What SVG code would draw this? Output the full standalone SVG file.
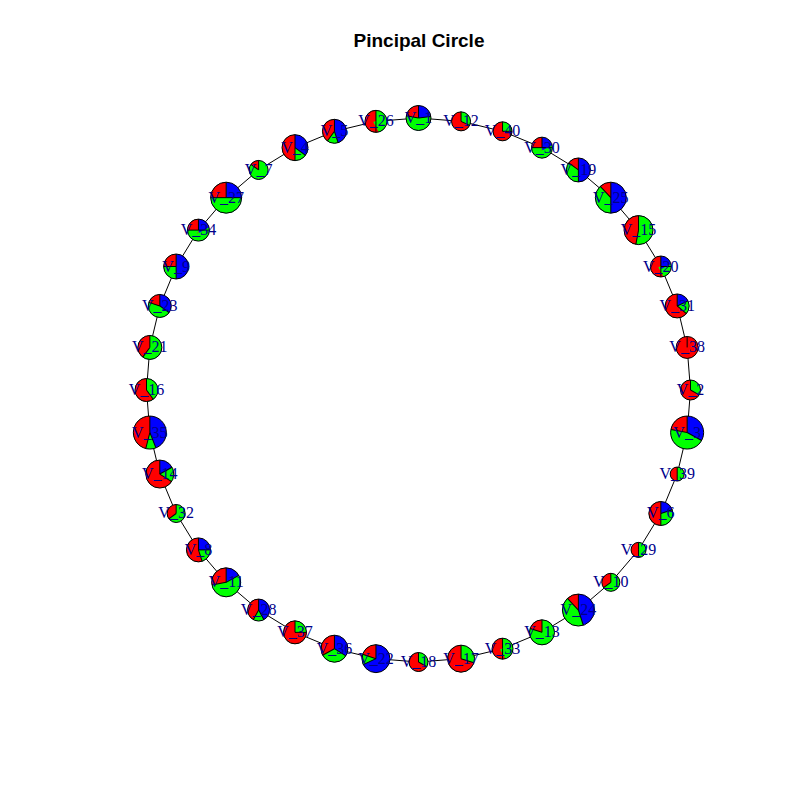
<svg xmlns="http://www.w3.org/2000/svg" width="800" height="800" viewBox="0 0 800 800">
<style>
.b{fill:#0000FF}
.gr{fill:none;stroke:#00FF00}
.rd{fill:none;stroke:#FF0000}
.o{fill:none;stroke:#000;stroke-width:1}
.k{fill:none;stroke:#000;stroke-width:1}
.l{font-family:"Liberation Serif",serif;font-size:16px;fill:#00008B;text-anchor:middle}
.e line{stroke:#000;stroke-width:1}
.t{font-family:"Liberation Sans",Arial,sans-serif;font-size:19px;font-weight:bold;text-anchor:middle;fill:#000}
</style>
<rect width="800" height="800" fill="#fff"/>
<text class="t" x="419" y="47">Pincipal Circle</text>
<g class="e" id="edges">
<line x1="418.5" y1="118" x2="461.05" y2="121.35"/>
<line x1="461.05" y1="121.35" x2="502.55" y2="131.31"/>
<line x1="502.55" y1="131.31" x2="541.99" y2="147.65"/>
<line x1="541.99" y1="147.65" x2="578.38" y2="169.95"/>
<line x1="578.38" y1="169.95" x2="610.83" y2="197.67"/>
<line x1="610.83" y1="197.67" x2="638.55" y2="230.12"/>
<line x1="638.55" y1="230.12" x2="660.85" y2="266.51"/>
<line x1="660.85" y1="266.51" x2="677.19" y2="305.95"/>
<line x1="677.19" y1="305.95" x2="687.15" y2="347.45"/>
<line x1="687.15" y1="347.45" x2="690.5" y2="390"/>
<line x1="690.5" y1="390" x2="687.15" y2="432.55"/>
<line x1="687.15" y1="432.55" x2="677.19" y2="474.05"/>
<line x1="677.19" y1="474.05" x2="660.85" y2="513.49"/>
<line x1="660.85" y1="513.49" x2="638.55" y2="549.88"/>
<line x1="638.55" y1="549.88" x2="610.83" y2="582.33"/>
<line x1="610.83" y1="582.33" x2="578.38" y2="610.05"/>
<line x1="578.38" y1="610.05" x2="541.99" y2="632.35"/>
<line x1="541.99" y1="632.35" x2="502.55" y2="648.69"/>
<line x1="502.55" y1="648.69" x2="461.05" y2="658.65"/>
<line x1="461.05" y1="658.65" x2="418.5" y2="662"/>
<line x1="418.5" y1="662" x2="375.95" y2="658.65"/>
<line x1="375.95" y1="658.65" x2="334.45" y2="648.69"/>
<line x1="334.45" y1="648.69" x2="295.01" y2="632.35"/>
<line x1="295.01" y1="632.35" x2="258.62" y2="610.05"/>
<line x1="258.62" y1="610.05" x2="226.17" y2="582.33"/>
<line x1="226.17" y1="582.33" x2="198.45" y2="549.88"/>
<line x1="198.45" y1="549.88" x2="176.15" y2="513.49"/>
<line x1="176.15" y1="513.49" x2="159.81" y2="474.05"/>
<line x1="159.81" y1="474.05" x2="149.85" y2="432.55"/>
<line x1="149.85" y1="432.55" x2="146.5" y2="390"/>
<line x1="146.5" y1="390" x2="149.85" y2="347.45"/>
<line x1="149.85" y1="347.45" x2="159.81" y2="305.95"/>
<line x1="159.81" y1="305.95" x2="176.15" y2="266.51"/>
<line x1="176.15" y1="266.51" x2="198.45" y2="230.12"/>
<line x1="198.45" y1="230.12" x2="226.17" y2="197.67"/>
<line x1="226.17" y1="197.67" x2="258.62" y2="169.95"/>
<line x1="258.62" y1="169.95" x2="295.01" y2="147.65"/>
<line x1="295.01" y1="147.65" x2="334.45" y2="131.31"/>
<line x1="334.45" y1="131.31" x2="375.95" y2="121.35"/>
<line x1="375.95" y1="121.35" x2="418.5" y2="118"/>
</g>

<g id="V_1" transform="translate(418.5,118)"><circle class="b" r="12.5"/><g transform="scale(-1,1) rotate(-90)"><circle class="gr" r="6.25" stroke-width="12.5" pathLength="100" stroke-dasharray="77 100"/><circle class="rd" r="6.25" stroke-width="12.5" pathLength="100" stroke-dasharray="22 100"/></g><circle class="o" r="12.5"/><path class="k" d="M0 0V-12.5"/><path class="k" d="M0 0V-12.5" transform="rotate(-79.2)"/><path class="k" d="M0 0V-12.5" transform="rotate(-277.2)"/><text class="l" y="5">V_1</text></g>

<g id="V_12" transform="translate(461.05,121.35)"><circle class="b" r="9.5"/><g transform="scale(-1,1) rotate(-90)"><circle class="gr" r="4.75" stroke-width="9.5" pathLength="100" stroke-dasharray="100 100"/><circle class="rd" r="4.75" stroke-width="9.5" pathLength="100" stroke-dasharray="68 100"/></g><circle class="o" r="9.5"/><path class="k" d="M0 0V-9.5"/><path class="k" d="M0 0V-9.5" transform="rotate(-244.8)"/><text class="l" y="5">V_12</text></g>

<g id="V_40" transform="translate(502.55,131.31)"><circle class="b" r="9.5"/><g transform="scale(-1,1) rotate(-90)"><circle class="gr" r="4.75" stroke-width="9.5" pathLength="100" stroke-dasharray="100 100"/><circle class="rd" r="4.75" stroke-width="9.5" pathLength="100" stroke-dasharray="75 100"/></g><circle class="o" r="9.5"/><path class="k" d="M0 0V-9.5"/><path class="k" d="M0 0V-9.5" transform="rotate(-270)"/><text class="l" y="5">V_40</text></g>

<g id="V_30" transform="translate(541.99,147.65)"><circle class="b" r="10.5"/><g transform="scale(-1,1) rotate(-90)"><circle class="gr" r="5.25" stroke-width="10.5" pathLength="100" stroke-dasharray="75 100"/><circle class="rd" r="5.25" stroke-width="10.5" pathLength="100" stroke-dasharray="25 100"/></g><circle class="o" r="10.5"/><path class="k" d="M0 0V-10.5"/><path class="k" d="M0 0V-10.5" transform="rotate(-90)"/><path class="k" d="M0 0V-10.5" transform="rotate(-270)"/><text class="l" y="5">V_30</text></g>

<g id="V_19" transform="translate(578.38,169.95)"><circle class="b" r="12"/><g transform="scale(-1,1) rotate(-90)"><circle class="gr" r="6" stroke-width="12" pathLength="100" stroke-dasharray="50 100"/><circle class="rd" r="6" stroke-width="12" pathLength="100" stroke-dasharray="15 100"/></g><circle class="o" r="12"/><path class="k" d="M0 0V-12"/><path class="k" d="M0 0V-12" transform="rotate(-54)"/><path class="k" d="M0 0V-12" transform="rotate(-180)"/><text class="l" y="5">V_19</text></g>

<g id="V_25" transform="translate(610.83,197.67)"><circle class="b" r="15.5"/><g transform="scale(-1,1) rotate(-90)"><circle class="gr" r="7.75" stroke-width="15.5" pathLength="100" stroke-dasharray="50 100"/><circle class="rd" r="7.75" stroke-width="15.5" pathLength="100" stroke-dasharray="12 100"/></g><circle class="o" r="15.5"/><path class="k" d="M0 0V-15.5"/><path class="k" d="M0 0V-15.5" transform="rotate(-43.2)"/><path class="k" d="M0 0V-15.5" transform="rotate(-180)"/><text class="l" y="5">V_25</text></g>

<g id="V_15" transform="translate(638.55,230.12)"><circle class="b" r="14.5"/><g transform="scale(-1,1) rotate(-90)"><circle class="gr" r="7.25" stroke-width="14.5" pathLength="100" stroke-dasharray="100 100"/><circle class="rd" r="7.25" stroke-width="14.5" pathLength="100" stroke-dasharray="47 100"/></g><circle class="o" r="14.5"/><path class="k" d="M0 0V-14.5"/><path class="k" d="M0 0V-14.5" transform="rotate(-169.2)"/><text class="l" y="5">V_15</text></g>

<g id="V_20" transform="translate(660.85,266.51)"><circle class="b" r="10.5"/><g transform="scale(-1,1) rotate(-90)"><circle class="gr" r="5.25" stroke-width="10.5" pathLength="100" stroke-dasharray="75 100"/><circle class="rd" r="5.25" stroke-width="10.5" pathLength="100" stroke-dasharray="50 100"/></g><circle class="o" r="10.5"/><path class="k" d="M0 0V-10.5"/><path class="k" d="M0 0V-10.5" transform="rotate(-180)"/><path class="k" d="M0 0V-10.5" transform="rotate(-270)"/><text class="l" y="5">V_20</text></g>

<g id="V_31" transform="translate(677.19,305.95)"><circle class="b" r="12"/><g transform="scale(-1,1) rotate(-90)"><circle class="gr" r="6" stroke-width="12" pathLength="100" stroke-dasharray="82 100"/><circle class="rd" r="6" stroke-width="12" pathLength="100" stroke-dasharray="64 100"/></g><circle class="o" r="12"/><path class="k" d="M0 0V-12"/><path class="k" d="M0 0V-12" transform="rotate(-230.4)"/><path class="k" d="M0 0V-12" transform="rotate(-295.2)"/><text class="l" y="5">V_31</text></g>

<g id="V_38" transform="translate(687.15,347.45)"><circle r="11" fill="#FF0000"/><circle class="o" r="11"/><path class="k" d="M0 0V-11"/><text class="l" y="5">V_38</text></g>

<g id="V_2" transform="translate(690.5,390)"><circle class="b" r="10"/><g transform="scale(-1,1) rotate(-90)"><circle class="gr" r="5" stroke-width="10" pathLength="100" stroke-dasharray="100 100"/><circle class="rd" r="5" stroke-width="10" pathLength="100" stroke-dasharray="67 100"/></g><circle class="o" r="10"/><path class="k" d="M0 0V-10"/><path class="k" d="M0 0V-10" transform="rotate(-241.2)"/><text class="l" y="5">V_2</text></g>

<g id="V_3" transform="translate(687.15,432.55)"><circle class="b" r="16.5"/><g transform="scale(-1,1) rotate(-90)"><circle class="gr" r="8.25" stroke-width="16.5" pathLength="100" stroke-dasharray="67 100"/><circle class="rd" r="8.25" stroke-width="16.5" pathLength="100" stroke-dasharray="22 100"/></g><circle class="o" r="16.5"/><path class="k" d="M0 0V-16.5"/><path class="k" d="M0 0V-16.5" transform="rotate(-79.2)"/><path class="k" d="M0 0V-16.5" transform="rotate(-241.2)"/><text class="l" y="5">V_3</text></g>

<g id="V_39" transform="translate(677.19,474.05)"><circle class="b" r="7"/><g transform="scale(-1,1) rotate(-90)"><circle class="gr" r="3.5" stroke-width="7" pathLength="100" stroke-dasharray="100 100"/><circle class="rd" r="3.5" stroke-width="7" pathLength="100" stroke-dasharray="50 100"/></g><circle class="o" r="7"/><path class="k" d="M0 0V-7"/><path class="k" d="M0 0V-7" transform="rotate(-180)"/><text class="l" y="5">V_39</text></g>

<g id="V_6" transform="translate(660.85,513.49)"><circle class="b" r="12"/><g transform="scale(-1,1) rotate(-90)"><circle class="gr" r="6" stroke-width="12" pathLength="100" stroke-dasharray="80 100"/><circle class="rd" r="6" stroke-width="12" pathLength="100" stroke-dasharray="50 100"/></g><circle class="o" r="12"/><path class="k" d="M0 0V-12"/><path class="k" d="M0 0V-12" transform="rotate(-180)"/><path class="k" d="M0 0V-12" transform="rotate(-288)"/><text class="l" y="5">V_6</text></g>

<g id="V_29" transform="translate(638.55,549.88)"><circle class="b" r="7.5"/><g transform="scale(-1,1) rotate(-90)"><circle class="gr" r="3.75" stroke-width="7.5" pathLength="100" stroke-dasharray="100 100"/><circle class="rd" r="3.75" stroke-width="7.5" pathLength="100" stroke-dasharray="50 100"/></g><circle class="o" r="7.5"/><path class="k" d="M0 0V-7.5"/><path class="k" d="M0 0V-7.5" transform="rotate(-180)"/><text class="l" y="5">V_29</text></g>

<g id="V_10" transform="translate(610.83,582.33)"><circle class="b" r="9"/><g transform="scale(-1,1) rotate(-90)"><circle class="gr" r="4.5" stroke-width="9" pathLength="100" stroke-dasharray="100 100"/><circle class="rd" r="4.5" stroke-width="9" pathLength="100" stroke-dasharray="35 100"/></g><circle class="o" r="9"/><path class="k" d="M0 0V-9"/><path class="k" d="M0 0V-9" transform="rotate(-126)"/><text class="l" y="5">V_10</text></g>

<g id="V_24" transform="translate(578.38,610.05)"><circle class="b" r="16"/><g transform="scale(-1,1) rotate(-90)"><circle class="gr" r="8" stroke-width="16" pathLength="100" stroke-dasharray="55 100"/><circle class="rd" r="8" stroke-width="16" pathLength="100" stroke-dasharray="12 100"/></g><circle class="o" r="16"/><path class="k" d="M0 0V-16"/><path class="k" d="M0 0V-16" transform="rotate(-43.2)"/><path class="k" d="M0 0V-16" transform="rotate(-198)"/><text class="l" y="5">V_24</text></g>

<g id="V_13" transform="translate(541.99,632.35)"><circle class="b" r="12.5"/><g transform="scale(-1,1) rotate(-90)"><circle class="gr" r="6.25" stroke-width="12.5" pathLength="100" stroke-dasharray="100 100"/><circle class="rd" r="6.25" stroke-width="12.5" pathLength="100" stroke-dasharray="20 100"/></g><circle class="o" r="12.5"/><path class="k" d="M0 0V-12.5"/><path class="k" d="M0 0V-12.5" transform="rotate(-72)"/><text class="l" y="5">V_13</text></g>

<g id="V_33" transform="translate(502.55,648.69)"><circle class="b" r="10.5"/><g transform="scale(-1,1) rotate(-90)"><circle class="gr" r="5.25" stroke-width="10.5" pathLength="100" stroke-dasharray="100 100"/><circle class="rd" r="5.25" stroke-width="10.5" pathLength="100" stroke-dasharray="50 100"/></g><circle class="o" r="10.5"/><path class="k" d="M0 0V-10.5"/><path class="k" d="M0 0V-10.5" transform="rotate(-180)"/><text class="l" y="5">V_33</text></g>

<g id="V_17" transform="translate(461.05,658.65)"><circle class="b" r="13.5"/><g transform="scale(-1,1) rotate(-90)"><circle class="gr" r="6.75" stroke-width="13.5" pathLength="100" stroke-dasharray="100 100"/><circle class="rd" r="6.75" stroke-width="13.5" pathLength="100" stroke-dasharray="70 100"/></g><circle class="o" r="13.5"/><path class="k" d="M0 0V-13.5"/><path class="k" d="M0 0V-13.5" transform="rotate(-252)"/><text class="l" y="5">V_17</text></g>

<g id="V_18" transform="translate(418.5,662)"><circle class="b" r="9.5"/><g transform="scale(-1,1) rotate(-90)"><circle class="gr" r="4.75" stroke-width="9.5" pathLength="100" stroke-dasharray="100 100"/><circle class="rd" r="4.75" stroke-width="9.5" pathLength="100" stroke-dasharray="67 100"/></g><circle class="o" r="9.5"/><path class="k" d="M0 0V-9.5"/><path class="k" d="M0 0V-9.5" transform="rotate(-241.2)"/><text class="l" y="5">V_18</text></g>

<g id="V_22" transform="translate(375.95,658.65)"><circle class="b" r="14"/><g transform="scale(-1,1) rotate(-90)"><circle class="gr" r="7" stroke-width="14" pathLength="100" stroke-dasharray="32 100"/><circle class="rd" r="7" stroke-width="14" pathLength="100" stroke-dasharray="20 100"/></g><circle class="o" r="14"/><path class="k" d="M0 0V-14"/><path class="k" d="M0 0V-14" transform="rotate(-72)"/><path class="k" d="M0 0V-14" transform="rotate(-115.2)"/><text class="l" y="5">V_22</text></g>

<g id="V_36" transform="translate(334.45,648.69)"><circle class="b" r="13.5"/><g transform="scale(-1,1) rotate(-90)"><circle class="gr" r="6.75" stroke-width="13.5" pathLength="100" stroke-dasharray="66 100"/><circle class="rd" r="6.75" stroke-width="13.5" pathLength="100" stroke-dasharray="33 100"/></g><circle class="o" r="13.5"/><path class="k" d="M0 0V-13.5"/><path class="k" d="M0 0V-13.5" transform="rotate(-118.8)"/><path class="k" d="M0 0V-13.5" transform="rotate(-237.6)"/><text class="l" y="5">V_36</text></g>

<g id="V_37" transform="translate(295.01,632.35)"><circle class="b" r="11.5"/><g transform="scale(-1,1) rotate(-90)"><circle class="gr" r="5.75" stroke-width="11.5" pathLength="100" stroke-dasharray="100 100"/><circle class="rd" r="5.75" stroke-width="11.5" pathLength="100" stroke-dasharray="75 100"/></g><circle class="o" r="11.5"/><path class="k" d="M0 0V-11.5"/><path class="k" d="M0 0V-11.5" transform="rotate(-270)"/><text class="l" y="5">V_37</text></g>

<g id="V_28" transform="translate(258.62,610.05)"><circle class="b" r="11"/><g transform="scale(-1,1) rotate(-90)"><circle class="gr" r="5.5" stroke-width="11" pathLength="100" stroke-dasharray="58 100"/><circle class="rd" r="5.5" stroke-width="11" pathLength="100" stroke-dasharray="42 100"/></g><circle class="o" r="11"/><path class="k" d="M0 0V-11"/><path class="k" d="M0 0V-11" transform="rotate(-151.2)"/><path class="k" d="M0 0V-11" transform="rotate(-208.8)"/><text class="l" y="5">V_28</text></g>

<g id="V_11" transform="translate(226.17,582.33)"><circle class="b" r="14.5"/><g transform="scale(-1,1) rotate(-90)"><circle class="gr" r="7.25" stroke-width="14.5" pathLength="100" stroke-dasharray="83 100"/><circle class="rd" r="7.25" stroke-width="14.5" pathLength="100" stroke-dasharray="28 100"/></g><circle class="o" r="14.5"/><path class="k" d="M0 0V-14.5"/><path class="k" d="M0 0V-14.5" transform="rotate(-100.8)"/><path class="k" d="M0 0V-14.5" transform="rotate(-298.8)"/><text class="l" y="5">V_11</text></g>

<g id="V_8" transform="translate(198.45,549.88)"><circle class="b" r="12"/><g transform="scale(-1,1) rotate(-90)"><circle class="gr" r="6" stroke-width="12" pathLength="100" stroke-dasharray="75 100"/><circle class="rd" r="6" stroke-width="12" pathLength="100" stroke-dasharray="55 100"/></g><circle class="o" r="12"/><path class="k" d="M0 0V-12"/><path class="k" d="M0 0V-12" transform="rotate(-198)"/><path class="k" d="M0 0V-12" transform="rotate(-270)"/><text class="l" y="5">V_8</text></g>

<g id="V_32" transform="translate(176.15,513.49)"><circle class="b" r="9"/><g transform="scale(-1,1) rotate(-90)"><circle class="gr" r="4.5" stroke-width="9" pathLength="100" stroke-dasharray="100 100"/><circle class="rd" r="4.5" stroke-width="9" pathLength="100" stroke-dasharray="35 100"/></g><circle class="o" r="9"/><path class="k" d="M0 0V-9"/><path class="k" d="M0 0V-9" transform="rotate(-126)"/><text class="l" y="5">V_32</text></g>

<g id="V_14" transform="translate(159.81,474.05)"><circle class="b" r="14"/><g transform="scale(-1,1) rotate(-90)"><circle class="gr" r="7" stroke-width="14" pathLength="100" stroke-dasharray="83 100"/><circle class="rd" r="7" stroke-width="14" pathLength="100" stroke-dasharray="66 100"/></g><circle class="o" r="14"/><path class="k" d="M0 0V-14"/><path class="k" d="M0 0V-14" transform="rotate(-237.6)"/><path class="k" d="M0 0V-14" transform="rotate(-298.8)"/><text class="l" y="5">V_14</text></g>

<g id="V_35" transform="translate(149.85,432.55)"><circle class="b" r="16.5"/><g transform="scale(-1,1) rotate(-90)"><circle class="gr" r="8.25" stroke-width="16.5" pathLength="100" stroke-dasharray="56 100"/><circle class="rd" r="8.25" stroke-width="16.5" pathLength="100" stroke-dasharray="46 100"/></g><circle class="o" r="16.5"/><path class="k" d="M0 0V-16.5"/><path class="k" d="M0 0V-16.5" transform="rotate(-165.6)"/><path class="k" d="M0 0V-16.5" transform="rotate(-201.6)"/><text class="l" y="5">V_35</text></g>

<g id="V_16" transform="translate(146.5,390)"><circle class="b" r="11.5"/><g transform="scale(-1,1) rotate(-90)"><circle class="gr" r="5.75" stroke-width="11.5" pathLength="100" stroke-dasharray="100 100"/><circle class="rd" r="5.75" stroke-width="11.5" pathLength="100" stroke-dasharray="60 100"/></g><circle class="o" r="11.5"/><path class="k" d="M0 0V-11.5"/><path class="k" d="M0 0V-11.5" transform="rotate(-216)"/><text class="l" y="5">V_16</text></g>

<g id="V_21" transform="translate(149.85,347.45)"><circle class="b" r="12"/><g transform="scale(-1,1) rotate(-90)"><circle class="gr" r="6" stroke-width="12" pathLength="100" stroke-dasharray="100 100"/><circle class="rd" r="6" stroke-width="12" pathLength="100" stroke-dasharray="40 100"/></g><circle class="o" r="12"/><path class="k" d="M0 0V-12"/><path class="k" d="M0 0V-12" transform="rotate(-144)"/><text class="l" y="5">V_21</text></g>

<g id="V_23" transform="translate(159.81,305.95)"><circle class="b" r="11.5"/><g transform="scale(-1,1) rotate(-90)"><circle class="gr" r="5.75" stroke-width="11.5" pathLength="100" stroke-dasharray="65 100"/><circle class="rd" r="5.75" stroke-width="11.5" pathLength="100" stroke-dasharray="20 100"/></g><circle class="o" r="11.5"/><path class="k" d="M0 0V-11.5"/><path class="k" d="M0 0V-11.5" transform="rotate(-72)"/><path class="k" d="M0 0V-11.5" transform="rotate(-234)"/><text class="l" y="5">V_23</text></g>

<g id="V_9" transform="translate(176.15,266.51)"><circle class="b" r="12.5"/><g transform="scale(-1,1) rotate(-90)"><circle class="gr" r="6.25" stroke-width="12.5" pathLength="100" stroke-dasharray="50 100"/><circle class="rd" r="6.25" stroke-width="12.5" pathLength="100" stroke-dasharray="25 100"/></g><circle class="o" r="12.5"/><path class="k" d="M0 0V-12.5"/><path class="k" d="M0 0V-12.5" transform="rotate(-90)"/><path class="k" d="M0 0V-12.5" transform="rotate(-180)"/><text class="l" y="5">V_9</text></g>

<g id="V_34" transform="translate(198.45,230.12)"><circle class="b" r="11"/><g transform="scale(-1,1) rotate(-90)"><circle class="gr" r="5.5" stroke-width="11" pathLength="100" stroke-dasharray="75 100"/><circle class="rd" r="5.5" stroke-width="11" pathLength="100" stroke-dasharray="25 100"/></g><circle class="o" r="11"/><path class="k" d="M0 0V-11"/><path class="k" d="M0 0V-11" transform="rotate(-90)"/><path class="k" d="M0 0V-11" transform="rotate(-270)"/><text class="l" y="5">V_34</text></g>

<g id="V_27" transform="translate(226.17,197.67)"><circle class="b" r="15.5"/><g transform="scale(-1,1) rotate(-90)"><circle class="gr" r="7.75" stroke-width="15.5" pathLength="100" stroke-dasharray="75 100"/><circle class="rd" r="7.75" stroke-width="15.5" pathLength="100" stroke-dasharray="25 100"/></g><circle class="o" r="15.5"/><path class="k" d="M0 0V-15.5"/><path class="k" d="M0 0V-15.5" transform="rotate(-90)"/><path class="k" d="M0 0V-15.5" transform="rotate(-270)"/><text class="l" y="5">V_27</text></g>

<g id="V_7" transform="translate(258.62,169.95)"><circle class="b" r="9.5"/><g transform="scale(-1,1) rotate(-90)"><circle class="gr" r="4.75" stroke-width="9.5" pathLength="100" stroke-dasharray="100 100"/><circle class="rd" r="4.75" stroke-width="9.5" pathLength="100" stroke-dasharray="15 100"/></g><circle class="o" r="9.5"/><path class="k" d="M0 0V-9.5"/><path class="k" d="M0 0V-9.5" transform="rotate(-54)"/><text class="l" y="5">V_7</text></g>

<g id="V_4" transform="translate(295.01,147.65)"><circle class="b" r="13"/><g transform="scale(-1,1) rotate(-90)"><circle class="gr" r="6.5" stroke-width="13" pathLength="100" stroke-dasharray="65 100"/><circle class="rd" r="6.5" stroke-width="13" pathLength="100" stroke-dasharray="50 100"/></g><circle class="o" r="13"/><path class="k" d="M0 0V-13"/><path class="k" d="M0 0V-13" transform="rotate(-180)"/><path class="k" d="M0 0V-13" transform="rotate(-234)"/><text class="l" y="5">V_4</text></g>

<g id="V_5" transform="translate(334.45,131.31)"><circle class="b" r="12"/><g transform="scale(-1,1) rotate(-90)"><circle class="gr" r="6" stroke-width="12" pathLength="100" stroke-dasharray="55 100"/><circle class="rd" r="6" stroke-width="12" pathLength="100" stroke-dasharray="40 100"/></g><circle class="o" r="12"/><path class="k" d="M0 0V-12"/><path class="k" d="M0 0V-12" transform="rotate(-144)"/><path class="k" d="M0 0V-12" transform="rotate(-198)"/><text class="l" y="5">V_5</text></g>

<g id="V_26" transform="translate(375.95,121.35)"><circle class="b" r="11"/><g transform="scale(-1,1) rotate(-90)"><circle class="gr" r="5.5" stroke-width="11" pathLength="100" stroke-dasharray="100 100"/><circle class="rd" r="5.5" stroke-width="11" pathLength="100" stroke-dasharray="50 100"/></g><circle class="o" r="11"/><path class="k" d="M0 0V-11"/><path class="k" d="M0 0V-11" transform="rotate(-180)"/><text class="l" y="5">V_26</text></g>
</svg>
